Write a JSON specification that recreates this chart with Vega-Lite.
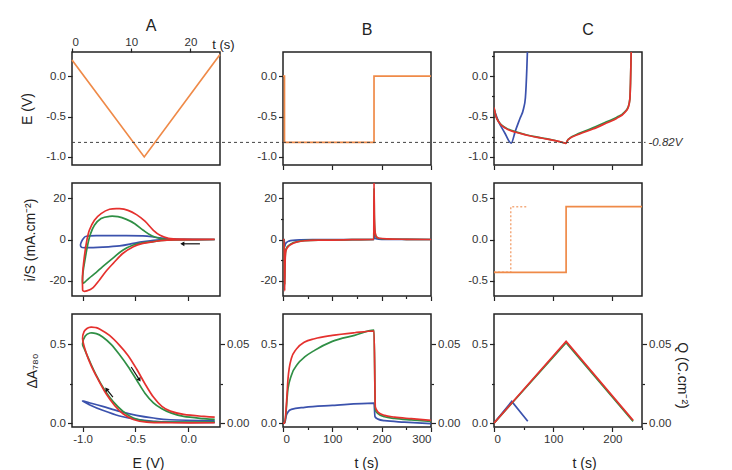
{
"$schema": "https://vega.github.io/schema/vega-lite/v6.json",
"background": "white",
"padding": {"left": 19, "top": 17, "right": 5, "bottom": 5},
"config": {
  "font": "Liberation Sans",
  "view": {"stroke": "#222", "strokeWidth": 1.5},
  "axis": {"domain": false, "grid": false, "tickColor": "#222", "tickWidth": 1.2, "labelColor": "#333", "labelFontSize": 11.5, "labelPadding": 2, "titleFontSize": 14, "titleFontWeight": "normal", "titleColor": "#222"},
  "title": {"fontSize": 16, "fontWeight": "normal", "color": "#222"},
  "line": {"strokeWidth": 1.7}
},
"datasets": {
  "a1": [{"o":0,"t":0,"E":0.2},{"o":1,"t":12.2,"E":-1.0},{"o":2,"t":25,"E":0.27}],
  "b1": [{"o":0,"t":0,"E":0},{"o":1,"t":3,"E":0},{"o":2,"t":3,"E":-0.82},{"o":3,"t":184.5,"E":-0.82},{"o":4,"t":184.5,"E":0},{"o":5,"t":300,"E":0}],
  "c1": [
    {"s":"blue","t":0,"E":-0.41},{"s":"blue","t":7,"E":-0.55},{"s":"blue","t":18,"E":-0.7},{"s":"blue","t":29,"E":-0.83},{"s":"blue","t":36,"E":-0.68},{"s":"blue","t":44,"E":-0.52},{"s":"blue","t":50,"E":-0.4},{"s":"blue","t":53,"E":-0.27},{"s":"blue","t":55.5,"E":0.1},{"s":"blue","t":56.5,"E":0.32},
    {"s":"green","t":0,"E":-0.39},{"s":"green","t":3,"E":-0.49},{"s":"green","t":8.5,"E":-0.57},{"s":"green","t":20,"E":-0.64},{"s":"green","t":37,"E":-0.69},{"s":"green","t":54,"E":-0.725},{"s":"green","t":82,"E":-0.765},{"s":"green","t":105,"E":-0.8},{"s":"green","t":119,"E":-0.826},{"s":"green","t":121.5,"E":-0.83},{"s":"green","t":125,"E":-0.785},{"s":"green","t":145,"E":-0.705},{"s":"green","t":167,"E":-0.64},{"s":"green","t":190,"E":-0.565},{"s":"green","t":207,"E":-0.51},{"s":"green","t":221,"E":-0.44},{"s":"green","t":226.7,"E":-0.38},{"s":"green","t":229.5,"E":-0.28},{"s":"green","t":230.6,"E":-0.08},{"s":"green","t":231.8,"E":0.32},
    {"s":"red","t":0,"E":-0.387},{"s":"red","t":3,"E":-0.49},{"s":"red","t":8.5,"E":-0.572},{"s":"red","t":20,"E":-0.646},{"s":"red","t":37,"E":-0.695},{"s":"red","t":54,"E":-0.728},{"s":"red","t":82,"E":-0.769},{"s":"red","t":105,"E":-0.802},{"s":"red","t":119,"E":-0.827},{"s":"red","t":121.5,"E":-0.832},{"s":"red","t":124.5,"E":-0.79},{"s":"red","t":144.5,"E":-0.716},{"s":"red","t":167,"E":-0.655},{"s":"red","t":190,"E":-0.58},{"s":"red","t":207,"E":-0.523},{"s":"red","t":221,"E":-0.449},{"s":"red","t":226.7,"E":-0.387},{"s":"red","t":229.5,"E":-0.284},{"s":"red","t":230.6,"E":-0.078},{"s":"red","t":231.8,"E":0.32}
  ],
  "a2": [
    {"s":"blue","o":0,"E":0.25,"i":0},{"s":"blue","o":1,"E":-0.2,"i":0},{"s":"blue","o":2,"E":-0.36,"i":-0.6},{"s":"blue","o":3,"E":-0.44,"i":-1.1},{"s":"blue","o":4,"E":-0.52,"i":-1.9},{"s":"blue","o":5,"E":-0.65,"i":-3.1},{"s":"blue","o":6,"E":-0.81,"i":-3.7},{"s":"blue","o":7,"E":-0.98,"i":-4.0},{"s":"blue","o":8,"E":-1.01,"i":-3.8},{"s":"blue","o":9,"E":-1.02,"i":-2.7},{"s":"blue","o":10,"E":-1.01,"i":-1.0},{"s":"blue","o":11,"E":-0.99,"i":0.6},{"s":"blue","o":12,"E":-0.965,"i":1.6},{"s":"blue","o":13,"E":-0.87,"i":1.9},{"s":"blue","o":14,"E":-0.65,"i":1.9},{"s":"blue","o":15,"E":-0.43,"i":1.8},{"s":"blue","o":16,"E":-0.315,"i":1.1},{"s":"blue","o":17,"E":-0.2,"i":0.3},{"s":"blue","o":18,"E":-0.075,"i":0},{"s":"blue","o":19,"E":0.25,"i":0},
    {"s":"green","o":0,"E":0.25,"i":0},{"s":"green","o":1,"E":-0.2,"i":-0.3},{"s":"green","o":2,"E":-0.33,"i":-1.0},{"s":"green","o":3,"E":-0.43,"i":-1.6},{"s":"green","o":4,"E":-0.52,"i":-2.7},{"s":"green","o":5,"E":-0.62,"i":-5.2},{"s":"green","o":6,"E":-0.71,"i":-8.9},{"s":"green","o":7,"E":-0.81,"i":-13.2},{"s":"green","o":8,"E":-0.87,"i":-16},{"s":"green","o":9,"E":-0.94,"i":-18.9},{"s":"green","o":10,"E":-0.99,"i":-21.2},{"s":"green","o":11,"E":-1.0,"i":-20.5},{"s":"green","o":12,"E":-0.995,"i":-15.6},{"s":"green","o":13,"E":-0.975,"i":-9.2},{"s":"green","o":14,"E":-0.952,"i":-2.7},{"s":"green","o":15,"E":-0.927,"i":2.4},{"s":"green","o":16,"E":-0.888,"i":6.9},{"s":"green","o":17,"E":-0.825,"i":10.2},{"s":"green","o":18,"E":-0.745,"i":11.3},{"s":"green","o":19,"E":-0.665,"i":11.1},{"s":"green","o":20,"E":-0.585,"i":9.8},{"s":"green","o":21,"E":-0.506,"i":7.7},{"s":"green","o":22,"E":-0.426,"i":4.5},{"s":"green","o":23,"E":-0.346,"i":1.8},{"s":"green","o":24,"E":-0.267,"i":0.5},{"s":"green","o":25,"E":-0.17,"i":0},{"s":"green","o":26,"E":0.25,"i":0},
    {"s":"red","o":0,"E":0.25,"i":0},{"s":"red","o":1,"E":-0.2,"i":-0.3},{"s":"red","o":2,"E":-0.33,"i":-1.1},{"s":"red","o":3,"E":-0.43,"i":-1.9},{"s":"red","o":4,"E":-0.52,"i":-3.5},{"s":"red","o":5,"E":-0.62,"i":-6.8},{"s":"red","o":6,"E":-0.71,"i":-11.6},{"s":"red","o":7,"E":-0.78,"i":-15.6},{"s":"red","o":8,"E":-0.84,"i":-19.7},{"s":"red","o":9,"E":-0.9,"i":-23.4},{"s":"red","o":10,"E":-0.96,"i":-25},{"s":"red","o":11,"E":-0.995,"i":-25},{"s":"red","o":12,"E":-1.0,"i":-23.5},{"s":"red","o":13,"E":-1.0,"i":-17.3},{"s":"red","o":14,"E":-0.985,"i":-9.2},{"s":"red","o":15,"E":-0.962,"i":-1.1},{"s":"red","o":16,"E":-0.936,"i":4.5},{"s":"red","o":17,"E":-0.888,"i":9.4},{"s":"red","o":18,"E":-0.825,"i":12.6},{"s":"red","o":19,"E":-0.745,"i":14.7},{"s":"red","o":20,"E":-0.65,"i":15.0},{"s":"red","o":21,"E":-0.57,"i":14.2},{"s":"red","o":22,"E":-0.49,"i":12.1},{"s":"red","o":23,"E":-0.41,"i":8.9},{"s":"red","o":24,"E":-0.33,"i":4.5},{"s":"red","o":25,"E":-0.267,"i":2.1},{"s":"red","o":26,"E":-0.187,"i":0.6},{"s":"red","o":27,"E":-0.075,"i":0.15},{"s":"red","o":28,"E":0.25,"i":0.05}
  ],
  "b2": [
    {"s":"blue","t":0,"i":0},{"s":"blue","t":2.5,"i":0},{"s":"blue","t":3.4,"i":-3.5},{"s":"blue","t":4.5,"i":-2.5},{"s":"blue","t":6,"i":-1.8},{"s":"blue","t":8,"i":-1.3},{"s":"blue","t":12,"i":-0.8},{"s":"blue","t":20,"i":-0.4},{"s":"blue","t":35,"i":-0.2},{"s":"blue","t":60,"i":-0.1},{"s":"blue","t":184,"i":0},{"s":"blue","t":184.5,"i":3},{"s":"blue","t":185.5,"i":1.2},{"s":"blue","t":188,"i":0.4},{"s":"blue","t":200,"i":0.1},{"s":"blue","t":300,"i":0},
    {"s":"green","t":0,"i":0},{"s":"green","t":2.5,"i":0},{"s":"green","t":3.4,"i":-22},{"s":"green","t":4.2,"i":-10},{"s":"green","t":5.4,"i":-5.5},{"s":"green","t":7.5,"i":-4},{"s":"green","t":10.1,"i":-3.2},{"s":"green","t":16.9,"i":-2},{"s":"green","t":30,"i":-1},{"s":"green","t":44,"i":-0.5},{"s":"green","t":80,"i":-0.25},{"s":"green","t":140,"i":-0.1},{"s":"green","t":184,"i":0},{"s":"green","t":184.5,"i":25},{"s":"green","t":185.2,"i":10},{"s":"green","t":186.5,"i":3.5},{"s":"green","t":189,"i":1.3},{"s":"green","t":195,"i":0.5},{"s":"green","t":210,"i":0.25},{"s":"green","t":250,"i":0.1},{"s":"green","t":300,"i":0},
    {"s":"red","t":0,"i":0},{"s":"red","t":2.5,"i":0},{"s":"red","t":3.4,"i":-25},{"s":"red","t":4.2,"i":-12},{"s":"red","t":5.4,"i":-6},{"s":"red","t":7.5,"i":-4.5},{"s":"red","t":10.1,"i":-3.6},{"s":"red","t":16.9,"i":-2.3},{"s":"red","t":30,"i":-1.1},{"s":"red","t":44,"i":-0.6},{"s":"red","t":80,"i":-0.3},{"s":"red","t":140,"i":-0.1},{"s":"red","t":184,"i":0},{"s":"red","t":184.5,"i":28},{"s":"red","t":185.2,"i":12},{"s":"red","t":186.5,"i":4},{"s":"red","t":189,"i":1.5},{"s":"red","t":195,"i":0.6},{"s":"red","t":210,"i":0.3},{"s":"red","t":250,"i":0.1},{"s":"red","t":300,"i":0}
  ],
  "c2": [
    {"k":"dotted","o":0,"t":0,"I":-0.4},{"k":"dotted","o":1,"t":28.3,"I":-0.4},{"k":"dotted","o":2,"t":28.3,"I":0.4},{"k":"dotted","o":3,"t":56.7,"I":0.4},
    {"k":"solid","o":0,"t":0,"I":-0.4},{"k":"solid","o":1,"t":121.8,"I":-0.4},{"k":"solid","o":2,"t":121.8,"I":0.4},{"k":"solid","o":3,"t":250,"I":0.4}
  ],
  "a3": [
    {"s":"blue","o":0,"E":0.25,"A":0.004},{"s":"blue","o":1,"E":-0.17,"A":0.006},{"s":"blue","o":2,"E":-0.33,"A":0.011},{"s":"blue","o":3,"E":-0.49,"A":0.023},{"s":"blue","o":4,"E":-0.65,"A":0.045},{"s":"blue","o":5,"E":-0.81,"A":0.081},{"s":"blue","o":6,"E":-0.936,"A":0.117},{"s":"blue","o":7,"E":-1.0,"A":0.14},{"s":"blue","o":8,"E":-0.936,"A":0.129},{"s":"blue","o":9,"E":-0.81,"A":0.106},{"s":"blue","o":10,"E":-0.65,"A":0.074},{"s":"blue","o":11,"E":-0.49,"A":0.049},{"s":"blue","o":12,"E":-0.33,"A":0.032},{"s":"blue","o":13,"E":-0.17,"A":0.021},{"s":"blue","o":14,"E":0.25,"A":0.015},
    {"s":"green","o":0,"E":0.25,"A":0.006},{"s":"green","o":1,"E":-0.17,"A":0.006},{"s":"green","o":2,"E":-0.394,"A":0.011},{"s":"green","o":3,"E":-0.52,"A":0.032},{"s":"green","o":4,"E":-0.617,"A":0.074},{"s":"green","o":5,"E":-0.713,"A":0.138},{"s":"green","o":6,"E":-0.79,"A":0.208},{"s":"green","o":7,"E":-0.87,"A":0.303},{"s":"green","o":8,"E":-0.936,"A":0.398},{"s":"green","o":9,"E":-0.984,"A":0.473},{"s":"green","o":10,"E":-1.0,"A":0.504},{"s":"green","o":11,"E":-0.975,"A":0.553},{"s":"green","o":12,"E":-0.93,"A":0.572},{"s":"green","o":13,"E":-0.87,"A":0.568},{"s":"green","o":14,"E":-0.81,"A":0.547},{"s":"green","o":15,"E":-0.73,"A":0.5},{"s":"green","o":16,"E":-0.65,"A":0.434},{"s":"green","o":17,"E":-0.57,"A":0.36},{"s":"green","o":18,"E":-0.49,"A":0.275},{"s":"green","o":19,"E":-0.41,"A":0.19},{"s":"green","o":20,"E":-0.33,"A":0.129},{"s":"green","o":21,"E":-0.25,"A":0.091},{"s":"green","o":22,"E":-0.17,"A":0.066},{"s":"green","o":23,"E":-0.044,"A":0.042},{"s":"green","o":24,"E":0.148,"A":0.028},{"s":"green","o":25,"E":0.25,"A":0.023},
    {"s":"red","o":0,"E":0.25,"A":0.002},{"s":"red","o":1,"E":-0.17,"A":0.002},{"s":"red","o":2,"E":-0.394,"A":0.006},{"s":"red","o":3,"E":-0.52,"A":0.023},{"s":"red","o":4,"E":-0.617,"A":0.059},{"s":"red","o":5,"E":-0.697,"A":0.112},{"s":"red","o":6,"E":-0.777,"A":0.186},{"s":"red","o":7,"E":-0.857,"A":0.282},{"s":"red","o":8,"E":-0.92,"A":0.367},{"s":"red","o":9,"E":-0.968,"A":0.45},{"s":"red","o":10,"E":-1.0,"A":0.536},{"s":"red","o":11,"E":-0.985,"A":0.582},{"s":"red","o":12,"E":-0.955,"A":0.603},{"s":"red","o":13,"E":-0.92,"A":0.61},{"s":"red","o":14,"E":-0.88,"A":0.607},{"s":"red","o":15,"E":-0.84,"A":0.598},{"s":"red","o":16,"E":-0.745,"A":0.557},{"s":"red","o":17,"E":-0.65,"A":0.494},{"s":"red","o":18,"E":-0.57,"A":0.43},{"s":"red","o":19,"E":-0.49,"A":0.345},{"s":"red","o":20,"E":-0.41,"A":0.25},{"s":"red","o":21,"E":-0.33,"A":0.165},{"s":"red","o":22,"E":-0.25,"A":0.106},{"s":"red","o":23,"E":-0.17,"A":0.076},{"s":"red","o":24,"E":-0.044,"A":0.055},{"s":"red","o":25,"E":0.148,"A":0.042},{"s":"red","o":26,"E":0.25,"A":0.038}
  ],
  "b3": [
    {"s":"blue","t":0,"A":0},{"s":"blue","t":3.4,"A":0},{"s":"blue","t":6.8,"A":0.049},{"s":"blue","t":10.1,"A":0.07},{"s":"blue","t":16.9,"A":0.087},{"s":"blue","t":44,"A":0.1},{"s":"blue","t":100,"A":0.112},{"s":"blue","t":184.5,"A":0.127},{"s":"blue","t":186.5,"A":0.04},{"s":"blue","t":192.6,"A":0.025},{"s":"blue","t":206,"A":0.015},{"s":"blue","t":246,"A":0.006},{"s":"blue","t":300,"A":-0.004},
    {"s":"green","t":0,"A":0},{"s":"green","t":3.4,"A":0},{"s":"green","t":10.1,"A":0.218},{"s":"green","t":16.9,"A":0.303},{"s":"green","t":30,"A":0.377},{"s":"green","t":44,"A":0.42},{"s":"green","t":64,"A":0.462},{"s":"green","t":100,"A":0.519},{"s":"green","t":145,"A":0.557},{"s":"green","t":184.5,"A":0.59},{"s":"green","t":187.2,"A":0.08},{"s":"green","t":192.6,"A":0.06},{"s":"green","t":206,"A":0.04},{"s":"green","t":226,"A":0.03},{"s":"green","t":260,"A":0.02},{"s":"green","t":300,"A":0.01},
    {"s":"red","t":0,"A":0},{"s":"red","t":3.4,"A":0},{"s":"red","t":6.8,"A":0.112},{"s":"red","t":10.1,"A":0.28},{"s":"red","t":16.9,"A":0.41},{"s":"red","t":27,"A":0.47},{"s":"red","t":44,"A":0.515},{"s":"red","t":64,"A":0.536},{"s":"red","t":100,"A":0.557},{"s":"red","t":145,"A":0.574},{"s":"red","t":184.5,"A":0.585},{"s":"red","t":187.2,"A":0.1},{"s":"red","t":192.6,"A":0.07},{"s":"red","t":206,"A":0.049},{"s":"red","t":226,"A":0.038},{"s":"red","t":260,"A":0.028},{"s":"red","t":300,"A":0.017}
  ],
  "c3": [
    {"s":"blue","t":0,"A":0},{"s":"blue","t":30,"A":0.138},{"s":"blue","t":57,"A":0.011},
    {"s":"green","t":0,"A":0},{"s":"green","t":121.8,"A":0.511},{"s":"green","t":235,"A":0.011},
    {"s":"red","t":0,"A":0},{"s":"red","t":121.8,"A":0.519},{"s":"red","t":235,"A":0.017}
  ],
  "ref": [{"E":-0.82,"a0":0,"a1":35.6,"b0":0,"b1":427.7,"c0":0,"c1":256}],
  "zero": [{"v":0}],
  "arr": [
    {"p":"a2","x":0.11,"y":-2.1,"x2":-0.05,"y2":-2.1},
    {"p":"a3a","x":-0.54,"y":0.356,"x2":-0.465,"y2":0.278},
    {"p":"a3b","x":-0.713,"y":0.165,"x2":-0.77,"y2":0.212}
  ]
},
"concat": [
  {
    "width": 148, "height": 113,
    "title": {"text": "A", "frame": "group", "dx": 5, "offset": 2},
    "layer": [
      {"data": {"name": "a1"}, "mark": {"type": "line", "color": "#ef8a48"},
       "encoding": {
         "x": {"field": "t", "type": "quantitative", "scale": {"domain": [0, 25], "nice": false, "zero": false},
               "axis": {"orient": "top", "values": [0, 5, 10, 15, 20, 25], "labelExpr": "datum.value==0?'0':datum.value==10?'10':datum.value==20?'20':''", "tickSize": {"condition": {"test": "datum.value%10!=0", "value": 2.5}, "value": 4}, "labelPadding": 1, "title": "t (s)", "titleX": 151, "titleY": -8, "titleAngle": 0, "titleAlign": "center", "titleBaseline": "middle", "titleFontSize": 13}},
         "y": {"field": "E", "type": "quantitative", "scale": {"domain": [-1.1, 0.3], "nice": false, "zero": false},
               "axis": {"orient": "left", "values": [-1, -0.75, -0.5, -0.25, 0, 0.25], "labelExpr": "datum.value==-1?'-1.0':datum.value==-0.5?'-0.5':datum.value==0?'0.0':''", "tickSize": {"condition": {"test": "datum.value==-0.75||datum.value==-0.25||datum.value==0.25", "value": 2.5}, "value": 4.5}, "title": "E (V)", "titleX": -45, "titleY": 56.5, "titleAngle": -90, "titleAlign": "center", "titleBaseline": "middle"}},
         "order": {"field": "o"}
       }},
      {"data": {"name": "ref"}, "mark": {"type": "rule", "strokeDash": [3, 3], "color": "#444", "strokeWidth": 1, "clip": false},
       "encoding": {
         "x": {"field": "a0", "type": "quantitative", "scale": {"domain": [0, 25], "nice": false, "zero": false}},
         "x2": {"field": "a1"},
         "y": {"field": "E", "type": "quantitative", "scale": {"domain": [-1.1, 0.3], "nice": false, "zero": false}}
       }}
    ]
  },
  {
    "width": 148, "height": 113,
    "title": {"text": "B", "frame": "group", "dx": 10, "offset": 14},
    "layer": [
      {"data": {"name": "b1"}, "mark": {"type": "line", "color": "#ef8a48"},
       "encoding": {
         "x": {"field": "t", "type": "quantitative", "scale": {"domain": [0, 300], "nice": false, "zero": false},
               "axis": {"values": [0, 50, 100, 150, 200, 250, 300], "labels": false, "tickSize": {"condition": {"test": "datum.value%100!=0", "value": 2.5}, "value": 4.5}, "title": null}},
         "y": {"field": "E", "type": "quantitative", "scale": {"domain": [-1.1, 0.3], "nice": false, "zero": false},
               "axis": {"orient": "left", "values": [-1, -0.75, -0.5, -0.25, 0, 0.25], "labelExpr": "datum.value==-1?'-1.0':datum.value==-0.5?'-0.5':datum.value==0?'0.0':''", "tickSize": {"condition": {"test": "datum.value==-0.75||datum.value==-0.25||datum.value==0.25", "value": 2.5}, "value": 4.5}, "title": null}},
         "order": {"field": "o"}
       }},
      {"data": {"name": "ref"}, "mark": {"type": "rule", "strokeDash": [3, 3], "color": "#444", "strokeWidth": 1, "clip": false},
       "encoding": {
         "x": {"field": "b0", "type": "quantitative", "scale": {"domain": [0, 300], "nice": false, "zero": false}},
         "x2": {"field": "b1"},
         "y": {"field": "E", "type": "quantitative", "scale": {"domain": [-1.1, 0.3], "nice": false, "zero": false}}
       }}
    ]
  },
  {
    "width": 148, "height": 113,
    "title": {"text": "C", "frame": "group", "dx": 20, "offset": 14},
    "resolve": {"axis": {"y": "independent"}},
    "layer": [
      {"data": {"name": "c1"}, "mark": {"type": "line", "interpolate": "monotone", "clip": true},
       "encoding": {
         "x": {"field": "t", "type": "quantitative", "scale": {"domain": [0, 250], "nice": false, "zero": false},
               "axis": {"values": [0, 50, 100, 150, 200, 250], "labels": false, "tickSize": {"condition": {"test": "datum.value%100!=0", "value": 2.5}, "value": 4.5}, "title": null}},
         "y": {"field": "E", "type": "quantitative", "scale": {"domain": [-1.1, 0.3], "nice": false, "zero": false},
               "axis": {"orient": "left", "values": [-1, -0.75, -0.5, -0.25, 0, 0.25], "labelExpr": "datum.value==-1?'-1.0':datum.value==-0.5?'-0.5':datum.value==0?'0.0':''", "tickSize": {"condition": {"test": "datum.value==-0.75||datum.value==-0.25||datum.value==0.25", "value": 2.5}, "value": 4.5}, "title": null}},
         "color": {"field": "s", "type": "nominal", "scale": {"domain": ["blue", "green", "red"], "range": ["#3b52ad", "#2f8f45", "#e5312e"]}, "legend": null}
       }},
      {"data": {"name": "ref"}, "mark": {"type": "rule", "strokeDash": [3, 3], "color": "#444", "strokeWidth": 1, "clip": false},
       "encoding": {
         "x": {"field": "c0", "type": "quantitative", "scale": {"domain": [0, 250], "nice": false, "zero": false}},
         "x2": {"field": "c1"},
         "y": {"field": "E", "type": "quantitative", "scale": {"domain": [-1.1, 0.3], "nice": false, "zero": false},
               "axis": {"orient": "right", "values": [-0.82], "labelExpr": "'-0.82V'", "ticks": false, "tickSize": 0, "labelPadding": 6, "labelFontStyle": "italic", "title": null}}
       }}
    ]
  },
  {
    "width": 148, "height": 113,
    "layer": [
      {"data": {"name": "a2"}, "mark": {"type": "line", "interpolate": "cardinal"},
       "encoding": {
         "x": {"field": "E", "type": "quantitative", "scale": {"domain": [-1.1, 0.3], "nice": false, "zero": false},
               "axis": {"values": [-1, -0.75, -0.5, -0.25, 0, 0.25], "labels": false, "tickSize": {"condition": {"test": "datum.value==-0.75||datum.value==-0.25||datum.value==0.25", "value": 2.5}, "value": 4.5}, "title": null}},
         "y": {"field": "i", "type": "quantitative", "scale": {"domain": [-27.5, 27.5], "nice": false, "zero": false},
               "axis": {"orient": "left", "values": [-20, -10, 0, 10, 20], "labelExpr": "datum.value==20?'20':datum.value==0?'0':datum.value==-20?'-20':''", "tickSize": {"condition": {"test": "datum.value==10||datum.value==-10", "value": 2.5}, "value": 4.5}, "title": "i/S (mA.cm⁻²)", "titleX": -42, "titleY": 56.5, "titleAngle": -90, "titleAlign": "center", "titleBaseline": "middle"}},
         "color": {"field": "s", "type": "nominal", "scale": {"domain": ["blue", "green", "red"], "range": ["#3b52ad", "#2f8f45", "#e5312e"]}, "legend": null},
         "order": {"field": "o"}
       }},
      {"data": {"name": "arr"}, "transform": [{"filter": "datum.p=='a2'"}], "mark": {"type": "rule", "color": "#111", "strokeWidth": 1.2},
       "encoding": {"x": {"field": "x", "type": "quantitative"}, "x2": {"field": "x2"}, "y": {"field": "y", "type": "quantitative"}, "y2": {"field": "y2"}}},
      {"data": {"name": "arr"}, "transform": [{"filter": "datum.p=='a2'"}], "mark": {"type": "point", "shape": "triangle", "angle": 270, "filled": true, "color": "#111", "size": 22, "opacity": 1},
       "encoding": {"x": {"field": "x2", "type": "quantitative"}, "y": {"field": "y2", "type": "quantitative"}}}
    ]
  },
  {
    "width": 148, "height": 113,
    "layer": [
      {"data": {"name": "b2"}, "mark": {"type": "line", "interpolate": "monotone", "clip": true},
       "encoding": {
         "x": {"field": "t", "type": "quantitative", "scale": {"domain": [0, 300], "nice": false, "zero": false},
               "axis": {"values": [0, 50, 100, 150, 200, 250, 300], "labels": false, "tickSize": {"condition": {"test": "datum.value%100!=0", "value": 2.5}, "value": 4.5}, "title": null}},
         "y": {"field": "i", "type": "quantitative", "scale": {"domain": [-27.5, 27.5], "nice": false, "zero": false},
               "axis": {"orient": "left", "values": [-20, -10, 0, 10, 20], "labelExpr": "datum.value==20?'20':datum.value==0?'0':datum.value==-20?'-20':''", "tickSize": {"condition": {"test": "datum.value==10||datum.value==-10", "value": 2.5}, "value": 4.5}, "title": null}},
         "color": {"field": "s", "type": "nominal", "scale": {"domain": ["blue", "green", "red"], "range": ["#3b52ad", "#2f8f45", "#e5312e"]}, "legend": null}
       }}
    ]
  },
  {
    "width": 148, "height": 113,
    "layer": [
      {"data": {"name": "c2"}, "transform": [{"filter": "datum.k=='dotted'"}], "mark": {"type": "line", "color": "#f3ab7e", "strokeDash": [2, 2], "strokeWidth": 1.5},
       "encoding": {
         "x": {"field": "t", "type": "quantitative", "scale": {"domain": [0, 250], "nice": false, "zero": false},
               "axis": {"values": [0, 50, 100, 150, 200, 250], "labels": false, "tickSize": {"condition": {"test": "datum.value%100!=0", "value": 2.5}, "value": 4.5}, "title": null}},
         "y": {"field": "I", "type": "quantitative", "scale": {"domain": [-0.6875, 0.6875], "nice": false, "zero": false},
               "axis": {"orient": "left", "values": [-0.5, -0.25, 0, 0.25, 0.5], "labelExpr": "datum.value==0.5?'0.5':datum.value==0?'0.0':datum.value==-0.5?'-0.5':''", "tickSize": {"condition": {"test": "datum.value==0.25||datum.value==-0.25", "value": 2.5}, "value": 4.5}, "title": null}},
         "order": {"field": "o"}
       }},
      {"data": {"name": "c2"}, "transform": [{"filter": "datum.k=='solid'"}], "mark": {"type": "line", "color": "#ef8a48"},
       "encoding": {
         "x": {"field": "t", "type": "quantitative", "scale": {"domain": [0, 250], "nice": false, "zero": false}},
         "y": {"field": "I", "type": "quantitative", "scale": {"domain": [-0.6875, 0.6875], "nice": false, "zero": false}},
         "order": {"field": "o"}
       }}
    ]
  },
  {
    "width": 148, "height": 113,
    "resolve": {"axis": {"y": "independent"}},
    "layer": [
      {"data": {"name": "a3"}, "mark": {"type": "line", "interpolate": "cardinal"},
       "encoding": {
         "x": {"field": "E", "type": "quantitative", "scale": {"domain": [-1.1, 0.3], "nice": false, "zero": false},
               "axis": {"values": [-1, -0.75, -0.5, -0.25, 0, 0.25], "labelExpr": "datum.value==-1?'-1.0':datum.value==-0.5?'-0.5':datum.value==0?'0.0':''", "tickSize": {"condition": {"test": "datum.value==-0.75||datum.value==-0.25||datum.value==0.25", "value": 2.5}, "value": 4.5}, "title": "E (V)", "titleX": 76, "titleY": 36, "titleAlign": "center", "titleBaseline": "middle"}},
         "y": {"field": "A", "type": "quantitative", "scale": {"domain": [-0.025, 0.693], "nice": false, "zero": false},
               "axis": {"orient": "left", "values": [0, 0.25, 0.5], "labelExpr": "datum.value==0?'0.0':datum.value==0.5?'0.5':''", "tickSize": {"condition": {"test": "datum.value==0.25", "value": 2.5}, "value": 4.5}, "title": "ΔA₇₈₀", "titleX": -40, "titleY": 56.5, "titleAngle": -90, "titleAlign": "center", "titleBaseline": "middle"}},
         "color": {"field": "s", "type": "nominal", "scale": {"domain": ["blue", "green", "red"], "range": ["#3b52ad", "#2f8f45", "#e5312e"]}, "legend": null},
         "order": {"field": "o"}
       }},
      {"data": {"name": "arr"}, "transform": [{"filter": "datum.p!='a2'"}], "mark": {"type": "rule", "color": "#111", "strokeWidth": 1.2},
       "encoding": {"x": {"field": "x", "type": "quantitative"}, "x2": {"field": "x2"}, "y": {"field": "y", "type": "quantitative", "axis": null}, "y2": {"field": "y2"}}},
      {"data": {"name": "arr"}, "transform": [{"filter": "datum.p=='a3a'"}], "mark": {"type": "point", "shape": "triangle", "angle": 148, "filled": true, "color": "#111", "size": 22, "opacity": 1},
       "encoding": {"x": {"field": "x2", "type": "quantitative"}, "y": {"field": "y2", "type": "quantitative", "axis": null}}},
      {"data": {"name": "arr"}, "transform": [{"filter": "datum.p=='a3b'"}], "mark": {"type": "point", "shape": "triangle", "angle": 321, "filled": true, "color": "#111", "size": 22, "opacity": 1},
       "encoding": {"x": {"field": "x2", "type": "quantitative"}, "y": {"field": "y2", "type": "quantitative", "axis": null}}},
      {"data": {"name": "zero"}, "mark": {"type": "point", "opacity": 0},
       "encoding": {"y": {"field": "v", "type": "quantitative", "scale": {"domain": [-0.025, 0.693], "nice": false, "zero": false},
         "axis": {"orient": "right", "values": [0, 0.25, 0.5], "labelExpr": "datum.value==0?'0.00':datum.value==0.5?'0.05':''", "tickSize": {"condition": {"test": "datum.value==0.25", "value": 2.5}, "value": 4.5}, "title": null}}}}
    ]
  },
  {
    "width": 148, "height": 113,
    "resolve": {"axis": {"y": "independent"}},
    "layer": [
      {"data": {"name": "b3"}, "mark": {"type": "line", "interpolate": "monotone"},
       "encoding": {
         "x": {"field": "t", "type": "quantitative", "scale": {"domain": [0, 300], "nice": false, "zero": false},
               "axis": {"values": [0, 50, 100, 150, 200, 250, 300], "labelExpr": "datum.value%100==0?datum.label:''", "tickSize": {"condition": {"test": "datum.value%100!=0", "value": 2.5}, "value": 4.5}, "title": "t (s)", "titleX": 83, "titleY": 36, "titleAlign": "center", "titleBaseline": "middle"}},
         "y": {"field": "A", "type": "quantitative", "scale": {"domain": [-0.025, 0.693], "nice": false, "zero": false},
               "axis": {"orient": "left", "values": [0, 0.25, 0.5], "labelExpr": "datum.value==0?'0.0':datum.value==0.5?'0.5':''", "tickSize": {"condition": {"test": "datum.value==0.25", "value": 2.5}, "value": 4.5}, "title": null}},
         "color": {"field": "s", "type": "nominal", "scale": {"domain": ["blue", "green", "red"], "range": ["#3b52ad", "#2f8f45", "#e5312e"]}, "legend": null}
       }},
      {"data": {"name": "zero"}, "mark": {"type": "point", "opacity": 0},
       "encoding": {"y": {"field": "v", "type": "quantitative", "scale": {"domain": [-0.025, 0.693], "nice": false, "zero": false},
         "axis": {"orient": "right", "values": [0, 0.25, 0.5], "labelExpr": "datum.value==0?'0.00':datum.value==0.5?'0.05':''", "tickSize": {"condition": {"test": "datum.value==0.25", "value": 2.5}, "value": 4.5}, "title": null}}}}
    ]
  },
  {
    "width": 148, "height": 113,
    "resolve": {"axis": {"y": "independent"}},
    "layer": [
      {"data": {"name": "c3"}, "mark": {"type": "line"},
       "encoding": {
         "x": {"field": "t", "type": "quantitative", "scale": {"domain": [0, 250], "nice": false, "zero": false},
               "axis": {"values": [0, 50, 100, 150, 200, 250], "labelExpr": "datum.value%100==0?datum.label:''", "tickSize": {"condition": {"test": "datum.value%100!=0", "value": 2.5}, "value": 4.5}, "title": "t (s)", "titleX": 90, "titleY": 36, "titleAlign": "center", "titleBaseline": "middle"}},
         "y": {"field": "A", "type": "quantitative", "scale": {"domain": [-0.025, 0.693], "nice": false, "zero": false},
               "axis": {"orient": "left", "values": [0, 0.25, 0.5], "labelExpr": "datum.value==0?'0.0':datum.value==0.5?'0.5':''", "tickSize": {"condition": {"test": "datum.value==0.25", "value": 2.5}, "value": 4.5}, "title": null}},
         "color": {"field": "s", "type": "nominal", "scale": {"domain": ["blue", "green", "red"], "range": ["#3b52ad", "#2f8f45", "#e5312e"]}, "legend": null}
       }},
      {"data": {"name": "zero"}, "mark": {"type": "point", "opacity": 0},
       "encoding": {"y": {"field": "v", "type": "quantitative", "scale": {"domain": [-0.025, 0.693], "nice": false, "zero": false},
         "axis": {"orient": "right", "values": [0, 0.25, 0.5], "labelExpr": "datum.value==0?'0.00':datum.value==0.5?'0.05':''", "tickSize": {"condition": {"test": "datum.value==0.25", "value": 2.5}, "value": 4.5}, "title": "Q (C.cm⁻²)", "titleX": 39, "titleY": 61, "titleAngle": 90, "titleAlign": "center", "titleBaseline": "middle"}}}}
    ]
  }
],
"columns": 3,
"spacing": {"row": 18, "column": 63},
"bounds": "flush",
"align": "all"
}
